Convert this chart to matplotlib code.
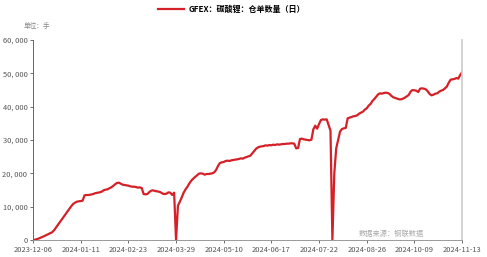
import matplotlib
matplotlib.use("Agg")
import matplotlib.pyplot as plt
from matplotlib.ticker import FuncFormatter

plt.rcParams['font.family'] = ['Noto Sans CJK SC', 'DejaVu Sans']

# x axis: one point per trading day, a label every 25 trading days
tick_labels = ["2023-12-06", "2024-01-11", "2024-02-23", "2024-03-29", "2024-05-10",
               "2024-06-17", "2024-07-22", "2024-08-26", "2024-10-09", "2024-11-13"]
tick_step = 25

# GFEX lithium carbonate warehouse receipts (lots)
receipts = [
    0, 100, 250, 450, 700, 950, 1200, 1500, 1750, 2050,
    2300, 2900, 3700, 4500, 5300, 6100, 6900, 7700, 8500, 9300,
    10100, 10800, 11200, 11500, 11600,
    11700, 11800, 13400, 13500, 13500, 13600, 13700, 13900, 14100, 14200,
    14300, 14500, 14900, 15100, 15200, 15500, 15800, 16200, 16700, 17100,
    17200, 16900, 16600, 16500, 16400,
    16300, 16100, 16000, 16000, 15900, 15700, 15800, 15600, 13800, 13700,
    13800, 14400, 14800, 14900, 14700, 14600, 14500, 14300, 13900, 13800,
    13900, 14300, 14200, 13500, 14200,
    0, 10300, 11500, 12800, 14200, 15200, 16000, 17000, 17800, 18400,
    18900, 19400, 19900, 20000, 19900, 19600, 19800, 19800, 19900, 20000,
    20300, 21000, 22200, 23100, 23300,
    23400, 23700, 23800, 23700, 23900, 24000, 24100, 24200, 24300, 24500,
    24400, 24700, 24900, 25100, 25300, 26000, 26700, 27400, 27800, 28000,
    28100, 28200, 28400, 28300, 28500,
    28400, 28600, 28500, 28700, 28600, 28700, 28800, 28800, 28900, 28900,
    29000, 29000, 28900, 27500, 27600, 30300, 30400, 30200, 30100, 30000,
    29900, 30100, 33200, 34300, 33400,
    34800, 36000, 36200, 36100, 36200, 34500, 32800, 0, 20000, 27500,
    30000, 32500, 33300, 33500, 33600, 36500, 36700, 36900, 37100, 37200,
    37400, 37900, 38200, 38500, 39100,
    39500, 40300, 40800, 41700, 42300, 43000, 43700, 44000, 43900, 44100,
    44200, 44100, 43800, 43200, 42800, 42600, 42400, 42200, 42200, 42400,
    42700, 43100, 43500, 44500, 45000,
    44900, 44800, 44400, 45400, 45500, 45400, 45200, 44600, 43800, 43400,
    43600, 43900, 44000, 44500, 44800, 45000, 45500, 46000, 47200, 48100,
    48200, 48300, 48600, 48400, 49500, 50300,
]

fig = plt.figure(figsize=(4.87, 2.57), dpi=100)
ax = fig.add_axes([0.0678, 0.0661, 0.881, 0.7783])

days = list(range(len(receipts)))
ax.plot(days, receipts, color="#d42027", linewidth=1.6,
        label="GFEX：碳酸锂：仓单数量（日）")

ax.set_xlim(0, tick_step * (len(tick_labels) - 1))
ax.set_ylim(0, 60000)
ax.set_xticks([i * tick_step for i in range(len(tick_labels))])
ax.set_xticklabels(tick_labels)
ax.set_yticks(range(0, 60001, 10000))
ax.yaxis.set_major_formatter(FuncFormatter(lambda v, p: f"{int(v):,}".replace(",", ", ")))

ax.tick_params(axis="both", labelsize=5.4, colors="#555555", length=2.5, width=0.6, pad=1.5)
ax.spines["top"].set_visible(False)
ax.spines["left"].set_color("#666666")
ax.spines["bottom"].set_color("#999999")
ax.spines["right"].set_color("#cccccc")
ax.spines["right"].set_linewidth(1.2)
for s in ["left", "bottom"]:
    ax.spines[s].set_linewidth(0.7)

fig.legend(loc="center", bbox_to_anchor=(0.476, 0.965), frameon=False,
           prop={"size": 5.8, "weight": "bold"}, handlelength=3.2, handletextpad=0.6)

fig.text(0.049, 0.9, "单位：手", fontsize=4.8, color="#888888", va="center")
ax.text(0.835, 0.03, "数据来源：钢联数据", transform=ax.transAxes, fontsize=5.2,
        color="#aaaaaa", ha="center", va="center")

fig.savefig("out.png", dpi=100)
